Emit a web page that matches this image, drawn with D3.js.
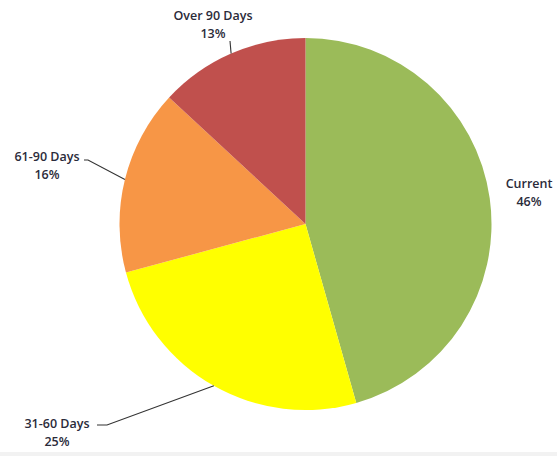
<!DOCTYPE html>
<html><head><meta charset="utf-8">
<script src="https://cdn.jsdelivr.net/npm/d3@7"></script>
<style>
html,body{margin:0;padding:0;background:#fff;}
svg{display:block;}
text{font-family:"Open Sans","Noto Sans",sans-serif;font-weight:600;font-size:12.5px;fill:#2b2b3a;}
</style></head>
<body>
<svg id="c" width="557" height="456"></svg>
<script>
const categories = ["Current", "31-60 Days", "61-90 Days", "Over 90 Days"];
const values = [45.6, 25.2, 16.1, 13.1];   // percent of total
const colors = ["#9BBB59", "#FFFF00", "#F79646", "#C0504D"];

const W = 557, H = 456, cx = 305.5, cy = 224, R = 186;
// label layout: text anchor point and leader-line end point (layout only)
const labelLayout = {
  "Current":      {tx: 529, ty: 188, line: null},
  "31-60 Days":   {tx: 57,  ty: 428, line: [[107, 425], [97, 425]]},
  "61-90 Days":   {tx: 47,  ty: 161, line: [[88, 160], [84, 160]]},
  "Over 90 Days": {tx: 213, ty: 20,  line: [[230, 41]]}
};

const svg = d3.select("#c");
svg.append("rect").attr("x",0).attr("y",452).attr("width",W).attr("height",4).attr("fill","#f2f2f2");

const data = categories.map((c,i)=>({name:c, value:values[i], color:colors[i]}));
const pie = d3.pie().value(d=>d.value).sort(null);
const arc = d3.arc().innerRadius(0).outerRadius(R);
const arcs = pie(data);

const g = svg.append("g").attr("transform",`translate(${cx},${cy})`);
g.selectAll("path").data(arcs).join("path")
  .attr("d", arc).attr("fill", d=>d.data.color);

arcs.forEach(a=>{
  const L = labelLayout[a.data.name];
  const mid = (a.startAngle + a.endAngle)/2;
  const px = cx + R*Math.sin(mid), py = cy - R*Math.cos(mid);
  if (L.line){
    const pts = [[px,py], ...L.line];
    svg.append("path").attr("d", d3.line()(pts))
      .attr("fill","none").attr("stroke","#333").attr("stroke-width",1.1);
  }
  const t = svg.append("text").attr("text-anchor","middle");
  t.append("tspan").attr("x",L.tx).attr("y",L.ty).text(a.data.name);
  t.append("tspan").attr("x",L.tx).attr("y",L.ty+18).text(Math.round(a.data.value)+"%");
});
</script>
</body></html>
